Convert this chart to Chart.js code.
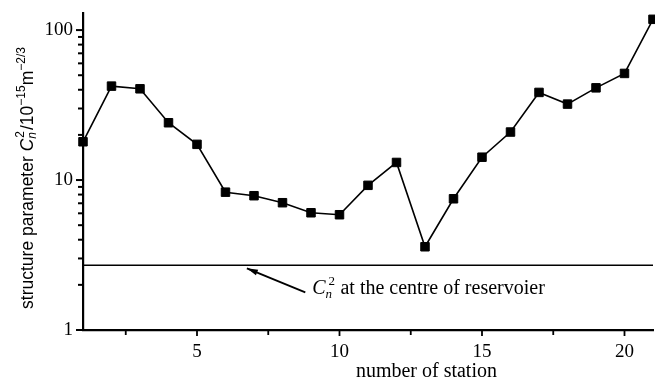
<!DOCTYPE html>
<html>
<head>
<meta charset="utf-8">
<script src="https://cdn.jsdelivr.net/npm/chart.js@4/dist/chart.umd.min.js"></script>
<style>
  html, body { margin: 0; padding: 0; background: #fff; }
  #wrap { width: 655px; height: 382px; position: relative; }
</style>
</head>
<body>
<div id="wrap"><canvas id="c" width="655" height="382"></canvas></div>
<script>
// ---- data ----
const STATIONS = [1, 2, 3, 4, 5, 6, 7, 8, 9, 10, 11, 12, 13, 14, 15, 16, 17, 18, 19, 20, 21];
const CN2 = [18.0, 42.3, 40.6, 24.1, 17.3, 8.3, 7.86, 7.06, 6.05, 5.87, 9.22, 13.1, 3.59, 7.5, 14.2, 20.9, 38.4, 32.1, 41.2, 51.4, 118];
const RESERVOIR_CENTRE = 2.7;
const X_TICKS = [5, 10, 15, 20];
const X_MINOR = [2.5, 7.5, 12.5, 17.5];
const Y_TICKS = [1, 10, 100];
const Y_MINOR = [2, 3, 4, 5, 6, 7, 8, 9, 20, 30, 40, 50, 60, 70, 80, 90];
const X_TITLE = 'number of station';
const NOTE_TEXT = ' at the centre of reservoier';

const SERIF = '"Liberation Serif", "Times New Roman", serif';
const SANS = '"Liberation Sans", Arial, sans-serif';

const decor = {
  id: 'decor',
  afterDraw(chart) {
    const ctx = chart.ctx;
    const xs = chart.scales.x, ys = chart.scales.y;
    const ca = chart.chartArea;
    ctx.save();
    ctx.strokeStyle = '#000';
    ctx.fillStyle = '#000';
    // y ticks (outward, left)
    ctx.lineWidth = 2;
    Y_TICKS.concat(Y_MINOR).forEach(v => {
      const p = ys.getPixelForValue(v);
      const len = Y_TICKS.includes(v) ? 7 : 5;
      ctx.beginPath(); ctx.moveTo(ys.right - len, p); ctx.lineTo(ys.right + 1, p); ctx.stroke();
    });
    // x ticks (outward, down)
    ctx.lineWidth = 1.8;
    X_TICKS.forEach(v => {
      const p = xs.getPixelForValue(v);
      ctx.beginPath(); ctx.moveTo(p, ca.bottom); ctx.lineTo(p, ca.bottom + 6); ctx.stroke();
    });
    X_MINOR.forEach(v => {
      const p = xs.getPixelForValue(v);
      ctx.beginPath(); ctx.moveTo(p, ca.bottom); ctx.lineTo(p, ca.bottom + 5); ctx.stroke();
    });

    // x title
    ctx.font = '20px ' + SERIF;
    ctx.textAlign = 'center';
    ctx.textBaseline = 'alphabetic';
    ctx.fillText(X_TITLE, xs.getPixelForValue(13.05), 377);

    // y title (rotated rich text)
    const base = 17.5, small = 12;
    const pieces = [
      { t: 'structure parameter ', f: base + 'px ' + SANS, dy: 0 },
      { t: 'C', f: 'italic ' + base + 'px ' + SANS, dy: 0 },
      { t: 'n', f: 'italic ' + small + 'px ' + SANS, dy: 3, stackWith: '2' },
      { t: '/10', f: base + 'px ' + SANS, dy: 0 },
      { t: '\u221215', f: small + 'px ' + SANS, dy: -8 },
      { t: 'm', f: base + 'px ' + SANS, dy: 0 },
      { t: '\u22122/3', f: small + 'px ' + SANS, dy: -8 }
    ];
    let total = 0;
    pieces.forEach(pc => {
      ctx.font = pc.f;
      let w = ctx.measureText(pc.t).width;
      if (pc.stackWith) w = Math.max(w, ctx.measureText(pc.stackWith).width);
      pc.w = w + (pc.stackWith ? 2 : 0);
      total += pc.w;
    });
    ctx.translate(33, 178);
    ctx.rotate(-Math.PI / 2);
    ctx.textAlign = 'left';
    let cx = -total / 2;
    pieces.forEach(pc => {
      ctx.font = pc.f;
      ctx.fillText(pc.t, cx, pc.dy);
      if (pc.stackWith) {
        ctx.font = small + 'px ' + SANS;
        ctx.fillText(pc.stackWith, cx + 1, -9);
      }
      cx += pc.w;
    });
    ctx.setTransform(1, 0, 0, 1, 0, 0);

    // annotation with arrow
    const lineY = ys.getPixelForValue(RESERVOIR_CENTRE);
    const tipX = xs.getPixelForValue(6.75), tipY = lineY + 3;
    const tailX = xs.getPixelForValue(8.8), tailY = lineY + 27;
    ctx.lineWidth = 1.8;
    ctx.beginPath(); ctx.moveTo(tailX, tailY); ctx.lineTo(tipX, tipY); ctx.stroke();
    const ang = Math.atan2(tipY - tailY, tipX - tailX);
    const L = 11, H = 3;
    ctx.beginPath();
    ctx.moveTo(tipX, tipY);
    ctx.lineTo(tipX - L * Math.cos(ang) + H * Math.sin(ang), tipY - L * Math.sin(ang) - H * Math.cos(ang));
    ctx.lineTo(tipX - L * Math.cos(ang) - H * Math.sin(ang), tipY - L * Math.sin(ang) + H * Math.cos(ang));
    ctx.closePath(); ctx.fill();

    let tx = xs.getPixelForValue(9.04);
    const by = lineY + 29;
    ctx.textBaseline = 'alphabetic';
    ctx.font = 'italic 20px ' + SERIF;
    ctx.fillText('C', tx, by);
    tx += ctx.measureText('C').width;
    ctx.font = 'italic 13px ' + SERIF;
    ctx.fillText('n', tx, by + 4);
    ctx.font = '13px ' + SERIF;
    ctx.fillText('2', tx + 3, by - 9);
    tx += 10;
    ctx.font = '20px ' + SERIF;
    ctx.fillText(NOTE_TEXT, tx, by);
    ctx.restore();
  }
};

new Chart(document.getElementById('c'), {
  type: 'line',
  data: {
    datasets: [
      {
        data: STATIONS.map((s, i) => ({ x: s, y: CN2[i] })),
        borderColor: '#000',
        backgroundColor: '#000',
        borderWidth: 1.6,
        pointStyle: 'rect',
        pointRadius: 6,
        pointBorderWidth: 1,
        pointBackgroundColor: '#000',
        pointBorderColor: '#000',
        tension: 0,
        clip: false
      },
      {
        data: [{ x: STATIONS[0], y: RESERVOIR_CENTRE }, { x: STATIONS[STATIONS.length - 1], y: RESERVOIR_CENTRE }],
        borderColor: '#000',
        borderWidth: 1.4,
        pointRadius: 0,
        tension: 0
      }
    ]
  },
  options: {
    responsive: false,
    animation: false,
    devicePixelRatio: 1,
    layout: { autoPadding: false, padding: { top: 13, right: 2, left: 0, bottom: 0 } },
    plugins: { legend: { display: false }, tooltip: { enabled: false }, title: { display: false } },
    scales: {
      x: {
        type: 'linear',
        min: 1,
        max: 21,
        grid: { display: false, drawTicks: false },
        border: { display: true, color: '#000', width: 2.2 },
        afterBuildTicks: s => { s.ticks = X_TICKS.map(v => ({ value: v })); },
        afterFit: s => { s.height = 52; s.paddingLeft = 0; s.paddingRight = 0; },
        ticks: { color: '#000', padding: 11, maxRotation: 0, font: { family: SERIF, size: 19 }, callback: v => String(v) }
      },
      y: {
        type: 'logarithmic',
        min: 1,
        max: 130,
        grid: { display: false, drawTicks: false },
        border: { display: true, color: '#000', width: 2.2 },
        afterBuildTicks: s => { s.ticks = Y_TICKS.map(v => ({ value: v })); },
        afterFit: s => { s.width = 83; s.paddingTop = 0; s.paddingBottom = 0; },
        ticks: { color: '#000', padding: 10, font: { family: SERIF, size: 19 }, callback: v => String(v) }
      }
    }
  },
  plugins: [decor]
});
</script>
</body>
</html>
